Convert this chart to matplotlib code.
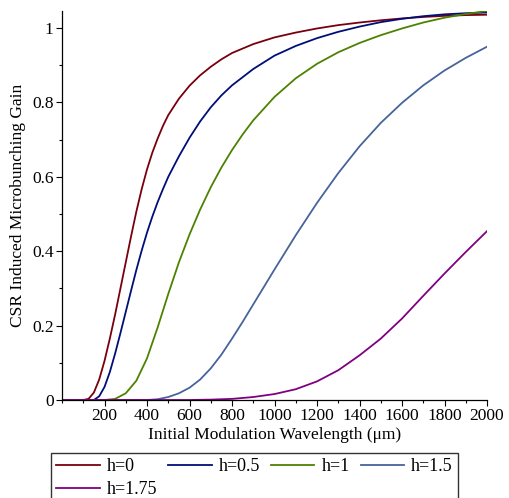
import matplotlib
matplotlib.use("Agg")
import matplotlib.pyplot as plt
from matplotlib.ticker import MultipleLocator

# values (wavelength in um -> gain)
x_h0 = [0, 100, 125, 150, 175, 200, 225, 250, 275, 300, 325, 350, 375, 400, 425, 450,
        475, 500, 550, 600, 650, 700, 750, 800, 900, 1000, 1100, 1200, 1300, 1400, 1500,
        1600, 1700, 1800, 1900, 2000]
g_h0 = [0, 0, 0.003, 0.02, 0.055, 0.105, 0.165, 0.23, 0.30, 0.37, 0.44, 0.507, 0.567,
        0.62, 0.665, 0.703, 0.737, 0.766, 0.81, 0.845, 0.873, 0.896, 0.916, 0.933, 0.957,
        0.975, 0.988, 0.999, 1.008, 1.015, 1.021, 1.026, 1.030, 1.033, 1.035, 1.036]

x_h05 = [0, 150, 175, 200, 225, 250, 275, 300, 325, 350, 375, 400, 425, 450, 475, 500,
         550, 600, 650, 700, 750, 800, 900, 1000, 1100, 1200, 1300, 1400, 1500, 1600,
         1700, 1800, 1900, 2000]
g_h05 = [0, 0, 0.01, 0.035, 0.075, 0.125, 0.18, 0.237, 0.294, 0.35, 0.402, 0.45, 0.493,
         0.532, 0.567, 0.60, 0.655, 0.705, 0.749, 0.787, 0.819, 0.846, 0.89, 0.926, 0.952,
         0.973, 0.99, 1.004, 1.016, 1.025, 1.032, 1.037, 1.040, 1.042]

x_h1 = [0, 200, 250, 300, 350, 400, 450, 500, 550, 600, 650, 700, 750, 800, 850, 900,
        1000, 1100, 1200, 1300, 1400, 1500, 1600, 1700, 1800, 1900, 2000]
g_h1 = [0, 0, 0.003, 0.018, 0.052, 0.112, 0.195, 0.285, 0.37, 0.445, 0.512, 0.572,
        0.625, 0.672, 0.714, 0.752, 0.815, 0.865, 0.904, 0.935, 0.96, 0.981, 0.999, 1.015,
        1.028, 1.038, 1.046]

x_h15 = [0, 400, 450, 500, 550, 600, 650, 700, 750, 800, 850, 900, 950, 1000, 1100,
         1200, 1300, 1400, 1500, 1600, 1700, 1800, 1900, 2000]
g_h15 = [0, 0, 0.002, 0.008, 0.018, 0.033, 0.055, 0.085, 0.122, 0.165, 0.21, 0.257,
         0.304, 0.351, 0.443, 0.53, 0.61, 0.682, 0.745, 0.799, 0.846, 0.886, 0.92, 0.95]

x_h175 = [0, 600, 700, 800, 900, 1000, 1100, 1200, 1300, 1400, 1500, 1600, 1700, 1800,
          1900, 2000]
g_h175 = [0, 0, 0.001, 0.003, 0.008, 0.016, 0.029, 0.05, 0.08, 0.12, 0.165, 0.219,
          0.28, 0.34, 0.398, 0.454]

labels = ["h=0", "h=0.5", "h=1", "h=1.5", "h=1.75"]
colors = ["#78000E", "#000E78", "#4C8200", "#46649A", "#800080"]

plt.rcParams['font.family'] = ['Liberation Serif', 'DejaVu Serif']

fig = plt.figure(figsize=(5.09, 4.98), dpi=100)
ax = fig.add_axes([62 / 509, 1 - 400 / 498, 425 / 509, 389 / 498])

series = [(x_h0, g_h0), (x_h05, g_h05), (x_h1, g_h1), (x_h15, g_h15), (x_h175, g_h175)]
lines = []
for (xs, ys), lab, col in zip(series, labels, colors):
    ln, = ax.plot(xs, ys, color=col, lw=1.3, label=lab)
    lines.append(ln)

ax.set_xlim(0, 2000)
ax.set_ylim(0, 1.046)
ax.xaxis.set_minor_locator(MultipleLocator(100))
ax.yaxis.set_minor_locator(MultipleLocator(0.1))
ax.set_xticks(range(200, 2001, 200))
ax.set_yticks([0, 0.2, 0.4, 0.6, 0.8, 1.0])
ax.set_yticklabels(["0", "0.2", "0.4", "0.6", "0.8", "1"])

for side in ("top", "right"):
    ax.spines[side].set_visible(False)
for side in ("left", "bottom"):
    ax.spines[side].set_linewidth(0.9)
ax.tick_params(which="major", direction="out", length=4, width=0.8, labelsize=12.5, pad=2)
ax.tick_params(which="minor", direction="out", length=2.5, width=0.8)

ax.set_xlabel("Initial Modulation Wavelength (μm)", fontsize=12.5, labelpad=2)
ax.set_ylabel("CSR Induced Microbunching Gain", fontsize=12.5, labelpad=4)

# matplotlib fills legend columns first, so reorder to get the row layout
order = [0, 4, 1, 2, 3]
fig.legend([lines[i] for i in order], [labels[i] for i in order],
           loc="upper left", bbox_to_anchor=(51 / 509, 1 - 453 / 498), ncol=4,
           fontsize=13, frameon=True, fancybox=False, edgecolor="black",
           borderaxespad=0, handlelength=2.4, handletextpad=0.4, columnspacing=0.6,
           labelspacing=0.3, borderpad=0.3)

fig.savefig("out.png", dpi=100)
